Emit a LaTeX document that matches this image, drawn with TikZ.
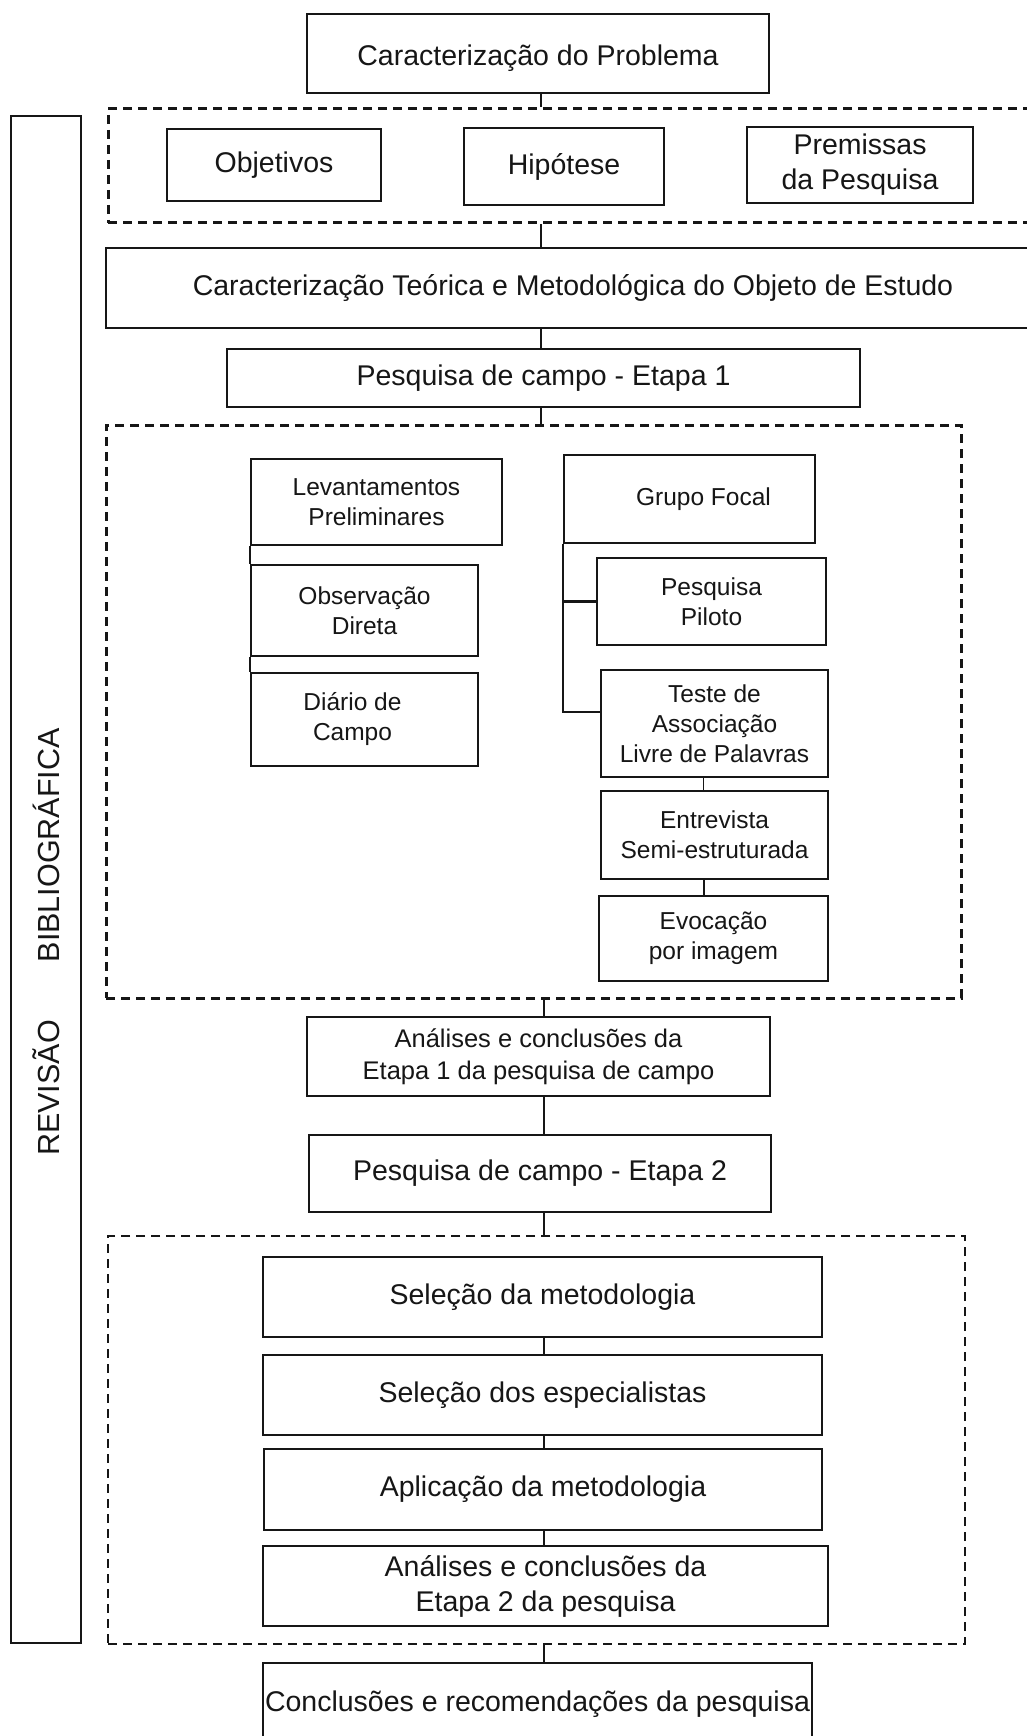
\documentclass[tikz,border=0pt]{standalone}
\usepackage{fontspec}
\setmainfont{Liberation Sans}
\usetikzlibrary{calc}
\definecolor{ink}{HTML}{161616}
\tikzset{
  box/.style={draw=ink, text=ink, line width=1.8pt, inner sep=0pt, align=center,
              font=\fontsize{28.5}{35}\selectfont},
  sbox/.style={box, font=\fontsize{24.5}{30}\selectfont},
  mbox/.style={box, font=\fontsize{25.5}{32}\selectfont},
  dbox/.style={draw=ink, line width=3pt, dash pattern=on 9pt off 6pt, inner sep=0pt},
  tbox/.style={draw=ink, line width=1.4pt, dash pattern=on 9pt off 6pt, inner sep=0pt},
  link/.style={draw=ink, line width=2pt},
  thinlink/.style={draw=ink, line width=1.5pt},
}
\begin{document}
\begin{tikzpicture}[x=1pt,y=-1pt]
\useasboundingbox[fill=white] (0,0) rectangle (1027,1736);
\coordinate (sp) at (541,0);
\coordinate (sq) at (544,0);
\coordinate (rs) at (703.5,0);

% dashed groups
\node[dbox, minimum width=930pt, minimum height=114pt] (d1) at (573,166) {};
\node[dbox, minimum width=855pt, minimum height=573pt] (d2) at (533.5,711.5) {};
\node[tbox, minimum width=857pt, minimum height=408pt] (d3) at (536.5,1440) {};

% left bar
\node[box, line width=1.5pt, minimum width=70pt, minimum height=1527pt] (bar) at (46,879.5) {};
\node[text=ink, font=\fontsize{30.5}{36}\selectfont, rotate=90, inner sep=0pt] (rev) at (46,942)
  {REVISÃO\hspace{58pt}BIBLIOGRÁFICA};

% main column
\node[box, minimum width=462pt, minimum height=79pt, text height=30pt, text depth=6pt] (prob) at (538,53.5)
  {Caracterização do Problema};
\node[box, minimum width=214pt, minimum height=72pt] (obj) at (274,165) {Objetivos};
\node[box, minimum width=200pt, minimum height=77pt] (hip) at (564,166.5) {Hipótese};
\node[box, minimum width=226pt, minimum height=76pt] (prem) at (860,165) {Premissas\\da Pesquisa};
\node[box, minimum width=934pt, minimum height=80pt] (big) at (573,288)
  {Caracterização Teórica e Metodológica do Objeto de Estudo};
\node[box, minimum width=633pt, minimum height=58pt] (et1) at (543.5,378) {Pesquisa de campo - Etapa 1};

% field research stage 1
\node[sbox, minimum width=251pt, minimum height=86pt] (lev) at (376.5,502) {Levantamentos\\Preliminares};
\node[sbox, minimum width=227pt, minimum height=91pt] (obs) at (364.5,610.5) {Observação\\Direta};
\node[sbox, minimum width=227pt, minimum height=93pt] (dia) at (364.5,719.5)
  {Diário de\rule{24pt}{0pt}\\Campo\rule{24pt}{0pt}};
\node[sbox, minimum width=251pt, minimum height=88pt] (gf) at (689.5,499) {\rule{28pt}{0pt}Grupo Focal};
\node[sbox, minimum width=229pt, minimum height=87pt] (pil) at (711.5,601.5) {Pesquisa\\Piloto};
\node[sbox, minimum width=227pt, minimum height=107pt] (tes) at (714.5,723.5)
  {Teste de\\Associação\\Livre de Palavras};
\node[sbox, minimum width=227pt, minimum height=88pt] (ent) at (714.5,835) {Entrevista\\Semi-estruturada};
\node[sbox, minimum width=229pt, minimum height=85pt] (evo) at (713.5,938.5) {Evocação\\por imagem};

\node[mbox, minimum width=463pt, minimum height=79pt] (an1) at (538.5,1056.5)
  {Análises e conclusões da\\Etapa 1 da pesquisa de campo};
\node[box, minimum width=462pt, minimum height=77pt] (et2) at (540,1173.5) {Pesquisa de campo - Etapa 2};

% stage 2
\node[box, minimum width=559pt, minimum height=80pt] (sm) at (542.5,1297) {Seleção da metodologia};
\node[box, minimum width=559pt, minimum height=80pt] (se) at (542.5,1395) {Seleção dos especialistas};
\node[box, minimum width=558pt, minimum height=81pt] (ap) at (543,1489.5) {Aplicação da metodologia};
\node[box, minimum width=565pt, minimum height=80pt] (an2) at (545.5,1586)
  {Análises e conclusões da\\Etapa 2 da pesquisa};
\node[box, minimum width=549pt, minimum height=82pt] (conc) at (537.5,1704)
  {\makebox[0pt][c]{Conclusões e recomendações da pesquisa}};

% connectors
\draw[link] (sp |- prob.south) -- (sp |- d1.north);
\draw[link] (sp |- d1.south) -- (sp |- big.north);
\draw[link] (sp |- big.south) -- (sp |- et1.north);
\draw[link] (sp |- et1.south) -- (sp |- d2.north);
\draw[link] (lev.south west) -- (obs.north west);
\draw[link] (obs.south west) -- (dia.north west);
\draw[link, line width=2.6pt] (gf.south west) |- (pil.west);
\draw[link, line width=2.6pt] (gf.south west) |- ([yshift=11.5pt]tes.west);
\draw[thinlink] (rs |- tes.south) -- (rs |- ent.north);
\draw[link] (rs |- ent.south) -- (rs |- evo.north);
\draw[link] (sq |- d2.south) -- (sq |- an1.north);
\draw[thinlink] (sq |- an1.south) -- (sq |- et2.north);
\draw[thinlink] (sq |- et2.south) -- (sq |- d3.north);
\draw[thinlink] (sq |- sm.south) -- (sq |- se.north);
\draw[thinlink] (sq |- se.south) -- (sq |- ap.north);
\draw[thinlink] (sq |- ap.south) -- (sq |- an2.north);
\draw[thinlink] (sq |- d3.south) -- (sq |- conc.north);
\end{tikzpicture}
\end{document}
